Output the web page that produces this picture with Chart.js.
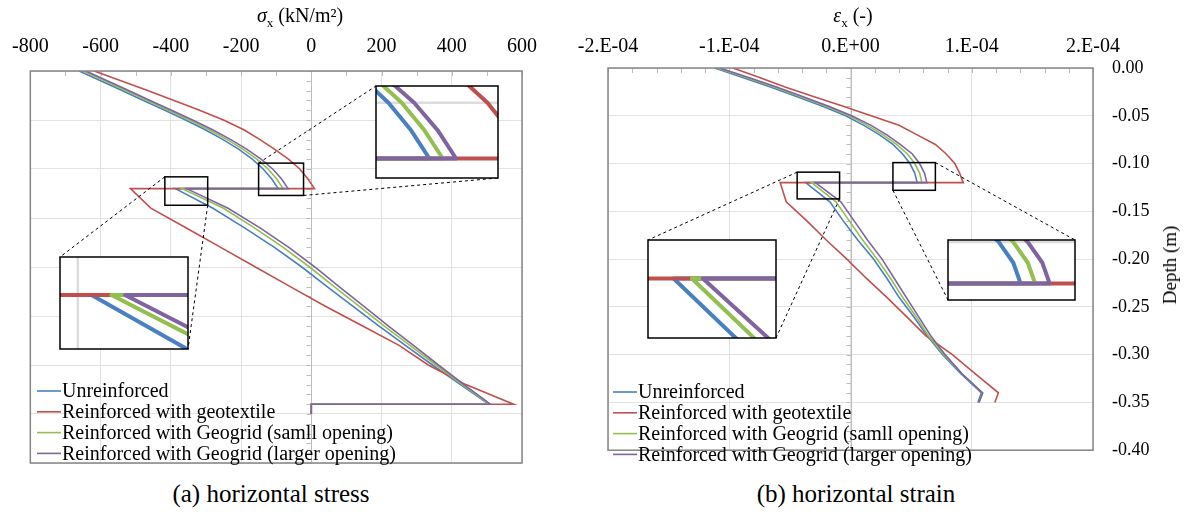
<!DOCTYPE html>
<html>
<head>
<meta charset="utf-8">
<script src="https://cdn.jsdelivr.net/npm/chart.js@4.4.1/dist/chart.umd.min.js"></script>
<style>
  body { margin: 0; background: #fff; width: 1184px; height: 513px; position: relative; overflow: hidden;
         font-family: "Liberation Serif", "Times New Roman", serif; color: #000; }
  canvas { position: absolute; top: 0; }
  #stressChart { left: 0; }
  #strainChart { left: 560px; }
  .lbl { position: absolute; white-space: nowrap; transform: translate(-50%, -50%); }
  .lbl sub { font-size: 13px; }
</style>
</head>
<body>
<canvas id="stressChart" width="560" height="480"></canvas>
<canvas id="strainChart" width="624" height="480"></canvas>

<div class="lbl" style="left:300px;top:17px;font-size:20px"><i>σ</i><sub>x</sub> (kN/m²)</div>
<div class="lbl" style="left:853px;top:17px;font-size:20px"><i>ε</i><sub>x</sub> (-)</div>
<div class="lbl" style="left:1170px;top:265px;font-size:19px;transform:translate(-50%,-50%) rotate(-90deg)">Depth (m)</div>
<div class="lbl" style="left:271px;top:494px;font-size:25px">(a) horizontal stress</div>
<div class="lbl" style="left:856px;top:494px;font-size:25px">(b) horizontal strain</div>

<script>
const seriesNames = [
    "Unreinforced",
    "Reinforced with geotextile",
    "Reinforced with Geogrid (samll opening)",
    "Reinforced with Geogrid (larger opening)"
];
const seriesColors = ["#4a7fc1", "#c0504d", "#92bf4f", "#8064a2"];

// depth (m) of the points, above and below the reinforcement at -0.12
const depthUpper = [0, -0.01, -0.02, -0.03, -0.04, -0.05, -0.06, -0.07, -0.08, -0.09, -0.10, -0.11, -0.12];
const depthLower = [-0.12, -0.14, -0.16, -0.18, -0.20, -0.22, -0.24, -0.26, -0.28, -0.30, -0.32, -0.34];

// horizontal stress (kN/m2), one row per series
const stressUpper = [
    [-661, -600, -539, -478, -417, -358, -302, -251, -206, -168, -137, -113, -94],
    [-618, -542, -466, -391, -318, -250, -192, -146, -104, -65, -33, -10, 9],
    [-650, -589, -528, -467, -406, -347, -291, -239, -194, -155, -123, -99, -80],
    [-642, -581, -520, -459, -398, -338, -281, -229, -183, -143, -110, -85, -66]
];
const stressLower = [
    [-387, -280, -190, -105, -27, 45, 118, 192, 268, 345, 425, 505],
    [-515, -457, -357, -258, -159, -60, 40, 145, 250, 333, 440, 576],
    [-368, -250, -162, -80, -5, 65, 136, 207, 281, 355, 430, 507],
    [-355, -237, -146, -64, 10, 79, 149, 219, 291, 362, 435, 510]
];
const stressTailX = [0, 0];
const stressTailDepth = [-0.34, -0.35];

// horizontal strain (x 1E-06)
const strainUpper = [
    [-112, -89, -66, -44, -23, -4, 11, 24, 35, 43, 49, 53, 55],
    [-97, -75, -54, -30, -6, 17, 40, 55, 70, 79, 86, 90, 93],
    [-110, -86, -63, -41, -20, -1, 14, 27, 38, 47, 53, 57, 59],
    [-108, -84, -61, -39, -18, 1, 17, 30, 41, 51, 57, 61, 63]
];
const strainLower = [
    [-37, -17, -6, 6, 19, 30, 40, 52, 63, 76, 91, 108],
    [-58, -53, -36, -20, -3, 13, 30, 46, 62, 84, 103, 122],
    [-32, -12, -1, 10, 22, 33, 43, 54, 64, 77, 92, 109],
    [-29, -8, 3, 14, 26, 36, 46, 56, 66, 78, 92, 109]
];
const strainTailX = [105, 119, 106, 106];
const strainTailDepth = -0.35;

const strainTickLabels = ["-2.E-04", "-1.E-04", "0.E+00", "1.E-04", "2.E-04"];
const depthTickLabels = ["0.00", "-0.05", "-0.10", "-0.15", "-0.20", "-0.25", "-0.30", "-0.35", "-0.40"];

const FONT = "'Liberation Serif', 'Times New Roman', serif";

function profile(upper, lower, tailX, tailDepth) {
    const pts = [];
    depthUpper.forEach((d, i) => pts.push({ x: upper[i], y: d }));
    depthLower.forEach((d, i) => pts.push({ x: lower[i], y: d }));
    tailX.forEach((v, i) => pts.push({ x: v, y: tailDepth[i] }));
    return pts;
}

function makeDatasets(upper, lower, tailFor) {
    return seriesNames.map((name, i) => ({
        label: name,
        data: profile(upper[i], lower[i], ...tailFor(i)),
        borderColor: seriesColors[i],
        borderWidth: 1.6,
        pointRadius: 0,
        showLine: true,
        tension: 0,
        order: 4 - i          // purple on top, like the original
    }));
}

// zero axis, border, zoom insets and legend
const extras = {
    id: "extras",
    beforeDatasetsDraw(chart, args, opts) {
        const { ctx, chartArea: a, scales: { x, y } } = chart;
        ctx.save();
        ctx.strokeStyle = "#bdbdbd";
        ctx.lineWidth = 1;
        ctx.beginPath();
        const x0 = Math.round(x.getPixelForValue(0)) + 0.5;
        ctx.moveTo(x0, a.top);
        ctx.lineTo(x0, a.bottom);
        for (let d = 0; d >= y.min - 1e-9; d -= opts.depthMinor) {
            const py = Math.round(y.getPixelForValue(d)) + 0.5;
            ctx.moveTo(x0 - 5, py);
            ctx.lineTo(x0, py);
        }
        for (let v = x.min; v <= x.max + 1e-9; v += opts.xMinor) {
            const px = Math.round(x.getPixelForValue(v)) + 0.5;
            ctx.moveTo(px, a.top);
            ctx.lineTo(px, a.top + 5);
        }
        ctx.stroke();
        ctx.restore();
    },
    afterDatasetsDraw(chart, args, opts) {
        const { ctx, chartArea: a } = chart;
        ctx.save();
        ctx.strokeStyle = "#858585";
        ctx.lineWidth = 1.5;
        ctx.strokeRect(a.left, a.top, a.right - a.left, a.bottom - a.top);
        ctx.restore();

        opts.insets.forEach(ins => drawInset(chart, ins));

        // legend
        ctx.save();
        ctx.font = "20px " + FONT;
        ctx.textBaseline = "middle";
        ctx.fillStyle = "#000";
        chart.data.datasets.forEach((ds, i) => {
            const ly = opts.legend.y + i * opts.legend.dy;
            ctx.strokeStyle = ds.borderColor;
            ctx.lineWidth = 1.6;
            ctx.beginPath();
            ctx.moveTo(opts.legend.x, ly);
            ctx.lineTo(opts.legend.x + 24, ly);
            ctx.stroke();
            ctx.fillText(ds.label, opts.legend.x + 25, ly + 1);
        });
        ctx.restore();
    }
};

function drawInset(chart, ins) {
    const { ctx, scales: { x, y } } = chart;
    const s = {
        l: x.getPixelForValue(ins.src.x[0]), r: x.getPixelForValue(ins.src.x[1]),
        t: y.getPixelForValue(ins.src.y[1]), b: y.getPixelForValue(ins.src.y[0])
    };
    const d = ins.dst;
    const kx = (d.r - d.l) / (s.r - s.l), ky = (d.b - d.t) / (s.b - s.t);
    const mx = px => d.l + (px - s.l) * kx;
    const my = py => d.t + (py - s.t) * ky;
    const corner = (r, c) => [c[1] === "l" ? r.l : r.r, c[0] === "t" ? r.t : r.b];

    ctx.save();
    ctx.strokeStyle = "#000";
    ctx.lineWidth = 1;
    ctx.setLineDash([3, 3]);
    ins.links.forEach(([from, to]) => {
        const p = corner(s, from), q = corner(d, to);
        ctx.beginPath();
        ctx.moveTo(p[0], p[1]);
        ctx.lineTo(q[0], q[1]);
        ctx.stroke();
    });
    ctx.setLineDash([]);
    ctx.lineWidth = 1.5;
    ctx.strokeRect(s.l, s.t, s.r - s.l, s.b - s.t);

    ctx.fillStyle = "#fff";
    ctx.fillRect(d.l, d.t, d.r - d.l, d.b - d.t);
    ctx.save();
    ctx.beginPath();
    ctx.rect(d.l, d.t, d.r - d.l, d.b - d.t);
    ctx.clip();
    ctx.strokeStyle = "#dcdcdc";
    ctx.lineWidth = 2.5;
    x.ticks.forEach(t => {
        const px = mx(x.getPixelForValue(t.value));
        ctx.beginPath(); ctx.moveTo(px, d.t); ctx.lineTo(px, d.b); ctx.stroke();
    });
    y.ticks.forEach(t => {
        const py = my(y.getPixelForValue(t.value));
        ctx.beginPath(); ctx.moveTo(d.l, py); ctx.lineTo(d.r, py); ctx.stroke();
    });
    ctx.lineJoin = "round";
    ctx.lineWidth = 4;
    chart.getSortedVisibleDatasetMetas().slice().reverse().forEach(meta => {
        ctx.strokeStyle = chart.data.datasets[meta.index].borderColor;
        ctx.beginPath();
        meta.data.forEach((pt, i) => {
            if (i === 0) ctx.moveTo(mx(pt.x), my(pt.y));
            else ctx.lineTo(mx(pt.x), my(pt.y));
        });
        ctx.stroke();
    });
    ctx.restore();
    ctx.strokeStyle = "#000";
    ctx.lineWidth = 1.5;
    ctx.strokeRect(d.l, d.t, d.r - d.l, d.b - d.t);
    ctx.restore();
}

function axisX(min, max, step, height, pad, cb) {
    return {
        type: "linear", position: "top", min: min, max: max,
        afterFit: s => { s.height = height; },
        border: { display: false },
        grid: { color: "#e2e2e2", drawTicks: false },
        ticks: { stepSize: step, padding: pad, color: "#000", font: { family: FONT, size: 20 }, callback: cb }
    };
}

const tickFont = { family: FONT, size: 18 };

new Chart(document.getElementById("stressChart"), {
    type: "scatter",
    data: { datasets: makeDatasets(stressUpper, stressLower, () => [stressTailX, stressTailDepth]) },
    options: {
        responsive: false, animation: false, events: [], devicePixelRatio: 1,
        layout: { padding: { left: 0, right: 38, top: 0, bottom: 17 } },
        scales: {
            x: axisX(-800, 600, 200, 71, 12),
            y: {
                type: "linear", min: -0.4, max: 0,
                afterFit: s => { s.width = 28; },
                border: { display: false },
                grid: { color: "#e2e2e2", drawTicks: false },
                ticks: { stepSize: 0.05, display: false }
            }
        },
        plugins: {
            legend: { display: false }, tooltip: { enabled: false },
            extras: {
                xMinor: 100, depthMinor: 0.01,
                legend: { x: 37, y: 391, dy: 20.8 },
                insets: [
                    { src: { x: [-150, -22], y: [-0.127, -0.094] }, dst: { l: 376, t: 86, r: 498, b: 178 }, links: [["tl", "tl"], ["br", "br"]] },
                    { src: { x: [-417, -295], y: [-0.137, -0.108] }, dst: { l: 60, t: 257, r: 188, b: 349 }, links: [["tl", "tl"], ["br", "br"]] }
                ]
            }
        }
    },
    plugins: [extras]
});

new Chart(document.getElementById("strainChart"), {
    type: "scatter",
    data: { datasets: makeDatasets(strainUpper, strainLower, i => [[strainTailX[i]], [strainTailDepth]]) },
    options: {
        responsive: false, animation: false, events: [], devicePixelRatio: 1,
        layout: { padding: { left: 48, right: 0, top: 0, bottom: 13 } },
        scales: {
            x: axisX(-200, 200, 100, 68, 9, (v, i) => strainTickLabels[i]),
            y: {
                type: "linear", position: "right", min: -0.4, max: 0,
                afterFit: s => { s.width = 91; },
                border: { display: false },
                grid: { color: "#e2e2e2", drawTicks: false },
                ticks: {
                    stepSize: 0.05, padding: 19, color: "#000", font: tickFont,
                    callback: v => depthTickLabels[Math.round(-v / 0.05)]
                }
            }
        },
        plugins: {
            legend: { display: false }, tooltip: { enabled: false },
            extras: {
                xMinor: 20, depthMinor: 0.01,
                legend: { x: 53, y: 392, dy: 20.8 },
                insets: [
                    { src: { x: [-44, -9], y: [-0.137, -0.109] }, dst: { l: 88, t: 240, r: 216, b: 338 }, links: [["tl", "tl"], ["br", "br"]] },
                    { src: { x: [35, 70], y: [-0.128, -0.099] }, dst: { l: 388, t: 240, r: 515, b: 300 }, links: [["tr", "tr"], ["bl", "bl"]] }
                ]
            }
        }
    },
    plugins: [extras]
});
</script>
</body>
</html>
